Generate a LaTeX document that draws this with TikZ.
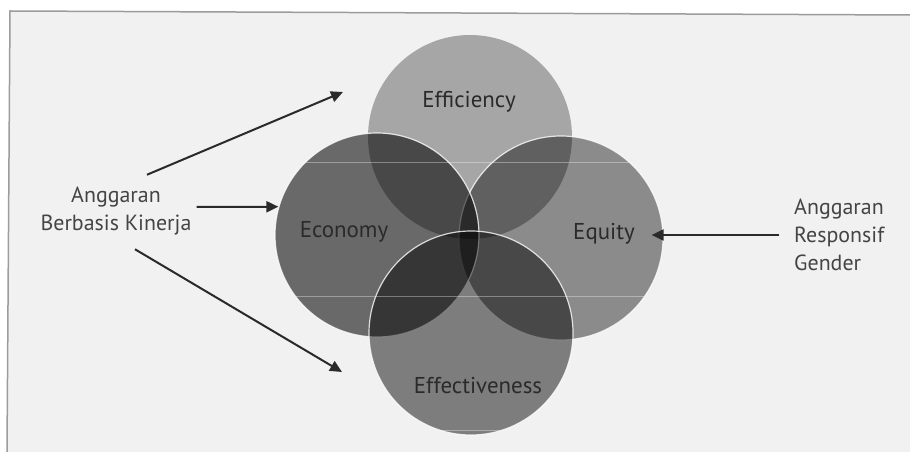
\documentclass[tikz,border=0pt]{standalone}
\usepackage{fontspec}
\setmainfont{PT Sans}
\usetikzlibrary{arrows.meta}

\definecolor{paper}{HTML}{F1F1F1}
\definecolor{framegray}{HTML}{9C9C9C}
\definecolor{inkgray}{HTML}{2A2A2A}
\definecolor{textgray}{HTML}{444444}

\tikzset{
  disc/.style={circle, minimum size=204bp, inner sep=0pt, fill=black,
    draw=white, line width=1.2bp},
  arr/.style={-{Triangle[length=12bp,width=11bp]}, line width=2bp, draw=inkgray},
  lbl/.style={font=\fontsize{23}{27}\selectfont, text=inkgray, anchor=base},
  side/.style={font=\fontsize{22}{28}\selectfont, text=textgray, inner sep=0pt}
}

\begin{document}
\begin{tikzpicture}[x=1bp, y=-1bp]
  \useasboundingbox (0,0) rectangle (910,452);
  % paper and frame
  \fill[white] (0,0) rectangle (910,452);
  \fill[paper] (10,11) -- (910,15) -- (910,452) -- (7,452) -- cycle;
  \draw[framegray, line width=1.5bp] (7,452) -- (10,11) -- (910,15);

  % the four circles
  \node[disc, fill opacity=.31, draw opacity=0] (effc) at (470,137) {};
  \node[disc, fill opacity=.42, draw opacity=.8] (equ) at (561,238) {};
  \node[disc, fill opacity=.56, draw opacity=.8] (econ) at (377,235) {};
  \node[disc, fill opacity=.48, draw opacity=.8] (effv) at (471,333) {};

  % faint scan lines
  \begin{scope}
    \clip (470,137) circle (102bp) (377,235) circle (102bp)
      (561,238) circle (102bp) (471,333) circle (102bp);
    \draw[white, opacity=.35, line width=1bp]
      (250,163) -- (700,163) (250,297) -- (700,297) (440,430) -- (510,430);
  \end{scope}

  \node[lbl] (effcT) at (469,108) {Efficiency};
  \node[lbl] (econT) at (344,238) {Economy};
  \node[lbl] (equT) at (604,240) {Equity};
  \node[lbl] (effvT) at (478,393) {Effectiveness};

  % side labels
  \node[side, align=center] (abk) at (116,211) {Anggaran\\Berbasis Kinerja};
  \node[side, align=left, anchor=west] (arg) at (794,235)
    {Anggaran\\Responsif\\Gender};

  % arrows
  \coordinate (effcIn) at (343,92);
  \coordinate (effvIn) at (342,372);
  \draw[arr] ([shift={(31,-12)}]abk.north) -- (effcIn);
  \draw[arr] ([shift={(5,-4)}]abk.east) -- (econ.164);
  \draw[arr] ([shift={(19,14)}]abk.south) -- (effvIn);
  \draw[arr, shorten >=3bp] ([xshift=-15bp]arg.west)
    -- ([xshift=-15bp]arg.west -| equ.east);
\end{tikzpicture}
\end{document}
